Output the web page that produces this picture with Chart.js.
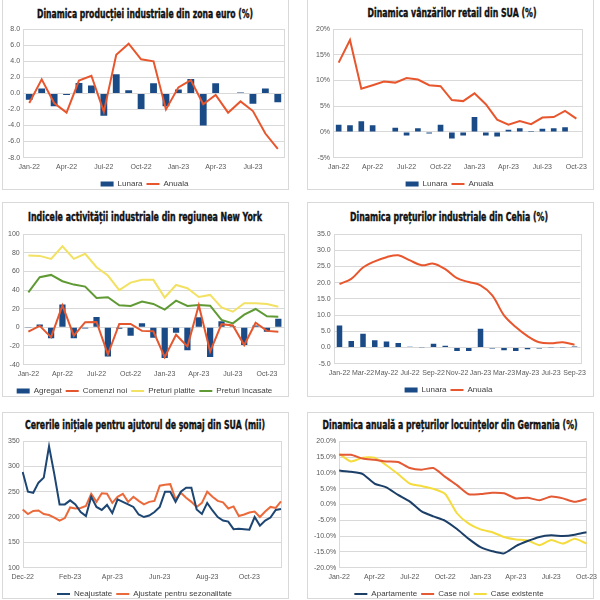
<!DOCTYPE html>
<html lang="ro">
<head>
<meta charset="utf-8">
<script src="https://cdn.jsdelivr.net/npm/chart.js@4.4.0/dist/chart.umd.min.js"></script>
<style>
body { margin: 0; width: 600px; height: 600px; position: relative; overflow: hidden; background: #fff; }
.panou { position: absolute; border: 1px solid #d9d9d9; box-sizing: border-box; }
.zona { position: absolute; }
.titlu { position: absolute; width: 300px; height: 16px; line-height: 16px; white-space: nowrap;
  font-family: "DejaVu Sans Condensed", "DejaVu Sans", sans-serif; font-weight: bold; font-size: 12.5px; color: #111;
  -webkit-text-stroke: 0.4px #111; }
.titlu span { position: absolute; left: 50%; top: 0; transform-origin: center; }
</style>
</head>
<body>
<div class="panou" style="left:2px;top:-1px;width:287px;height:191px"></div>
<div class="panou" style="left:307px;top:-1px;width:287px;height:191px"></div>
<div class="panou" style="left:2px;top:202px;width:287px;height:195px"></div>
<div class="panou" style="left:307px;top:202px;width:287px;height:195px"></div>
<div class="panou" style="left:2px;top:412px;width:287px;height:187px"></div>
<div class="panou" style="left:307px;top:412px;width:287px;height:187px"></div>

<div class="titlu" style="left:-5px;top:6px" data-latime="216"><span>Dinamica producției industriale din zona euro (%)</span></div>
<div class="titlu" style="left:302px;top:5px" data-latime="169"><span>Dinamica vânzărilor retail din SUA (%)</span></div>
<div class="titlu" style="left:-5px;top:209px" data-latime="234"><span>Indicele activității industriale din regiunea New York</span></div>
<div class="titlu" style="left:299px;top:209px" data-latime="198"><span>Dinamica prețurilor industriale din Cehia (%)</span></div>
<div class="titlu" style="left:-5px;top:417px" data-latime="240"><span>Cererile inițiale pentru ajutorul de șomaj din SUA (mii)</span></div>
<div class="titlu" style="left:300px;top:417px" data-latime="255"><span>Dinamica anuală a prețurilor locuințelor din Germania (%)</span></div>

<div class="zona" style="left:5px;top:22px;width:282px;height:176px"><canvas id="grafic1"></canvas></div>
<div class="zona" style="left:313px;top:22px;width:279px;height:176px"><canvas id="grafic2"></canvas></div>
<div class="zona" style="left:5px;top:227px;width:282px;height:178px"><canvas id="grafic3"></canvas></div>
<div class="zona" style="left:314px;top:227px;width:277px;height:177px"><canvas id="grafic4"></canvas></div>
<div class="zona" style="left:5px;top:434px;width:281px;height:174px"><canvas id="grafic5"></canvas></div>
<div class="zona" style="left:311px;top:434px;width:291px;height:174px"><canvas id="grafic6"></canvas></div>
<script>
const luni = ["Jan-22", "Feb-22", "Mar-22", "Apr-22", "May-22", "Jun-22", "Jul-22", "Aug-22", "Sep-22", "Oct-22", "Nov-22", "Dec-22",
  "Jan-23", "Feb-23", "Mar-23", "Apr-23", "May-23", "Jun-23", "Jul-23", "Aug-23", "Sep-23", "Oct-23", "Nov-23"];
const eticheteTrimestru = ["Jan-22", "Apr-22", "Jul-22", "Oct-22", "Jan-23", "Apr-23", "Jul-23", "Oct-23"];
const eticheteBilunar = ["Jan-22", "Mar-22", "May-22", "Jul-22", "Sep-22", "Nov-22", "Jan-23", "Mar-23", "May-23", "Jul-23", "Sep-23"];

// zona euro - productia industriala
const lunara1 = [-0.8, 0.6, -1.6, -0.2, 1.3, 1.0, -2.8, 2.4, 0.4, -1.95, 1.25, -1.6, 0.5, 1.8, -4.0, 1.25, 0.0, 0.1, -1.3, 0.6, -1.1];
const anuala1 = [-1.2, 1.75, -1.2, -2.4, 1.6, 2.2, -2.3, 4.8, 6.2, 4.25, 4.0, -2.0, 0.75, 1.65, -1.35, -0.2, -2.4, -1.0, -2.2, -5.0, -6.9];

// SUA - vanzari retail
const lunara2 = [1.4, 1.3, 2.1, 1.3, -0.1, 0.8, -0.7, 0.7, -0.3, 1.4, -1.3, -0.7, 2.9, -0.7, -0.9, 0.4, 0.7, 0.2, 0.6, 0.7, 0.9, -0.1];
const anuala2 = [13.5, 17.9, 8.4, 9.1, 9.8, 9.6, 10.5, 10.2, 9.1, 8.9, 6.2, 6.0, 7.5, 5.4, 2.4, 1.4, 2.1, 1.5, 2.8, 2.9, 4.1, 2.6];

// New York - Empire State
const agregat3 = [-0.7, 3.1, -11.8, 24.6, -11.6, -1.2, 11.1, -31.3, -1.5, -9.1, 4.5, -11.2, -32.9, -5.8, -24.6, 10.8, -31.8, 6.6, 1.1, -19.0, 1.9, -4.6, 9.1];
const comenzi3 = [-4.7, 1.6, -10.5, 23.5, -9.0, 5.6, 5.8, -29.0, 3.6, 3.6, -3.8, -4.2, -32.0, -7.9, -20.5, 23.8, -26.0, 3.4, 2.0, -19.0, 5.0, -3.8, -4.8];
const platite3 = [77, 76.7, 73.5, 87, 73.5, 79, 64.5, 55.6, 40, 48, 51, 51, 32, 45.5, 42, 32.6, 34.8, 21.5, 16.8, 25.8, 25.8, 25, 22.2];
const incasate3 = [37.6, 53.8, 56.3, 49.5, 45.9, 43.7, 31.5, 32.3, 23.7, 23, 27.6, 25.1, 19, 28.7, 23, 24, 23.3, 7.9, 4.3, 13.6, 19.7, 11.8, 11.5];

// Cehia - preturi industriale
const lunara4 = [6.8, 2.0, 4.2, 2.2, 1.8, 1.4, 0.2, -0.1, 1.1, 0.5, -1.1, -1.1, 5.8, -0.3, -0.9, -1.1, -0.6, -0.3, -0.1, -0.1, 0.3];
const anuala4 = [19.6, 21.2, 24.7, 26.6, 27.9, 28.5, 26.9, 25.4, 25.9, 24.2, 21.4, 20.2, 19.2, 16.1, 9.9, 6.3, 3.5, 1.6, 1.3, 1.6, 0.8];

// SUA - cereri initiale de somaj (mii), saptamanal
const saptamani5 = ["03-Dec-22", "10-Dec-22", "17-Dec-22", "24-Dec-22", "31-Dec-22", "07-Jan-23", "14-Jan-23", "21-Jan-23", "28-Jan-23",
  "04-Feb-23", "11-Feb-23", "18-Feb-23", "25-Feb-23", "04-Mar-23", "11-Mar-23", "18-Mar-23", "25-Mar-23", "01-Apr-23", "08-Apr-23",
  "15-Apr-23", "22-Apr-23", "29-Apr-23", "06-May-23", "13-May-23", "20-May-23", "27-May-23", "03-Jun-23", "10-Jun-23", "17-Jun-23",
  "24-Jun-23", "01-Jul-23", "08-Jul-23", "15-Jul-23", "22-Jul-23", "29-Jul-23", "05-Aug-23", "12-Aug-23", "19-Aug-23", "26-Aug-23",
  "02-Sep-23", "09-Sep-23", "16-Sep-23", "23-Sep-23", "30-Sep-23", "07-Oct-23", "14-Oct-23", "21-Oct-23", "28-Oct-23", "04-Nov-23", "11-Nov-23"];
const pozitiiTick5 = [0, 9, 17, 26, 35, 43];
const eticheteX5 = ["Dec-22", "Feb-23", "Apr-23", "Jun-23", "Aug-23", "Oct-23"];
const neajustate5 = [289, 250, 248, 268, 278, 340, 285, 225, 225, 233, 225, 210, 202, 240, 220, 214, 224, 208, 235, 230, 225, 220, 205, 200, 203,
  210, 220, 250, 250, 230, 250, 258, 258, 215, 206, 228, 213, 200, 193, 191, 176, 177, 176, 175, 200, 183, 193, 199, 214, 216];
const ajustate5 = [215, 206, 212, 213, 206, 204, 199, 193, 198, 219, 217, 218, 222, 246, 230, 247, 246, 228, 240, 246, 230, 240, 232, 225, 230,
  232, 262, 264, 265, 235, 248, 238, 230, 220, 228, 250, 240, 232, 229, 217, 221, 202, 205, 209, 211, 200, 211, 220, 218, 231];

// Germania - preturile locuintelor
const apartamente6 = [10.7, 10.3, 9.6, 6.6, 5.4, 3.0, 0.9, -2.2, -3.8, -5.2, -7.8, -10.9, -13.5, -14.8, -15.5, -13.2, -11.6, -10.3, -9.8, -10.0, -9.6, -8.8];
const caseNoi6 = [15.7, 15.7, 14.5, 14.1, 13.6, 13.4, 11.5, 11.0, 11.5, 8.7, 6.1, 3.2, 3.3, 3.7, 3.5, 1.9, 2.1, 1.3, 2.5, 1.9, 0.8, 1.7];
const caseExistente6 = [16.0, 13.6, 14.8, 14.8, 12.4, 9.6, 6.6, 5.8, 4.9, 3.3, -2.8, -6.1, -7.9, -8.8, -10.3, -11.1, -11.4, -12.9, -11.3, -12.4, -10.9, -12.4];

const ALBASTRU = "#1a4b86";
const PORTOCALIU = "#e8562d";
const GRILA = "#d9d9d9";

Chart.defaults.font.family = '"Liberation Sans Narrow", "Liberation Sans", Arial, sans-serif';
Chart.defaults.font.size = 7;
Chart.defaults.color = "#595959";
Chart.defaults.animation = false;

// titlurile sunt text HTML, stranse pe orizontala pana la latimea din imagine
document.querySelectorAll(".titlu").forEach((el) => {
  const span = el.querySelector("span");
  const k = Number(el.dataset.latime) / span.getBoundingClientRect().width;
  span.style.transform = "translateX(-50%) scaleX(" + k + ")";
});

const rama = {
  id: "rama",
  beforeDatasetsDraw(chart) {
    const { ctx, chartArea: a } = chart;
    ctx.save();
    ctx.strokeStyle = GRILA;
    ctx.lineWidth = 1;
    ctx.strokeRect(Math.round(a.left) + 0.5, Math.round(a.top) + 0.5, Math.round(a.right - a.left), Math.round(a.bottom - a.top));
    ctx.restore();
  }
};

function creeazaOptiuni(dreapta, min, max, pas, formatY, formatX) {
  return {
    responsive: true,
    maintainAspectRatio: false,
    layout: { padding: { left: 0, right: dreapta, top: 0, bottom: 0 } },
    plugins: {
      title: { display: false },
      legend: {
        position: "bottom",
        labels: {
          usePointStyle: true, pointStyleWidth: 13, boxHeight: 5,
          color: "#404040", font: { size: 8 }, padding: 4,
          sort: (a, b) => a.datasetIndex - b.datasetIndex
        }
      },
      tooltip: { enabled: false }
    },
    scales: {
      x: {
        grid: { display: false, drawTicks: false },
        border: { display: false },
        ticks: { autoSkip: false, maxRotation: 0, padding: 5, callback: formatX }
      },
      y: {
        min: min, max: max,
        grid: { color: GRILA, drawTicks: false },
        border: { display: false },
        ticks: { stepSize: pas, padding: 3, callback: formatY }
      }
    }
  };
}

function filtruEtichete(lista) {
  return function (valoare) {
    const eticheta = this.getLabelForValue(valoare);
    return lista.includes(eticheta) ? eticheta : "";
  };
}

function grafic(id, config) {
  config.plugins = [rama];
  new Chart(document.getElementById(id), config);
}

function seriaBare(eticheta, date, latime) {
  return { type: "bar", label: eticheta, data: date, backgroundColor: ALBASTRU, pointStyle: "rect",
    order: 1, barPercentage: latime, categoryPercentage: 1 };
}

function seriaLinie(eticheta, date, culoare, curbura) {
  return { type: "line", label: eticheta, data: date, borderColor: culoare, backgroundColor: culoare,
    borderWidth: 2, pointRadius: 0, pointStyle: "line", tension: curbura || 0, order: 0 };
}

grafic("grafic1", {
  type: "bar",
  data: {
    labels: luni.slice(0, lunara1.length),
    datasets: [seriaBare("Lunara", lunara1, 0.55), seriaLinie("Anuala", anuala1, PORTOCALIU)]
  },
  options: creeazaOptiuni(3, -8, 8, 2, (v) => v.toFixed(1), filtruEtichete(eticheteTrimestru))
});

grafic("grafic2", {
  type: "bar",
  data: {
    labels: luni.slice(0, lunara2.length),
    datasets: [seriaBare("Lunara", lunara2, 0.5), seriaLinie("Anuala", anuala2, PORTOCALIU)]
  },
  options: creeazaOptiuni(6, -5, 20, 5, (v) => v + "%", filtruEtichete(eticheteTrimestru))
});

grafic("grafic3", {
  type: "bar",
  data: {
    labels: luni.slice(0, agregat3.length),
    datasets: [
      seriaBare("Agregat", agregat3, 0.55),
      seriaLinie("Comenzi noi", comenzi3, "#e4572e"),
      seriaLinie("Preturi platite", platite3, "#f2e163"),
      seriaLinie("Preturi încasate", incasate3, "#5f9a34")
    ]
  },
  options: creeazaOptiuni(3, -40, 100, 20, (v) => v, filtruEtichete(eticheteTrimestru))
});

grafic("grafic4", {
  type: "bar",
  data: {
    labels: luni.slice(0, lunara4.length),
    datasets: [seriaBare("Lunara", lunara4, 0.47), seriaLinie("Anuala", anuala4, PORTOCALIU, 0.35)]
  },
  options: creeazaOptiuni(8, -5, 35, 5, (v) => v.toFixed(1), filtruEtichete(eticheteBilunar))
});

grafic("grafic5", {
  type: "line",
  data: {
    labels: saptamani5,
    datasets: [
      seriaLinie("Neajustate", neajustate5, "#1d4673"),
      seriaLinie("Ajustate pentru sezonalitate", ajustate5, "#eb6a3b")
    ]
  },
  options: creeazaOptiuni(2, 100, 350, 50, (v) => v, (v, i) => {
    const k = pozitiiTick5.indexOf(i);
    return k >= 0 ? eticheteX5[k] : "";
  })
});

grafic("grafic6", {
  type: "line",
  data: {
    labels: luni.slice(0, apartamente6.length),
    datasets: [
      seriaLinie("Apartamente", apartamente6, "#1c3f68", 0.2),
      seriaLinie("Case noi", caseNoi6, "#e35a35", 0.2),
      seriaLinie("Case existente", caseExistente6, "#f4dc3e", 0.2)
    ]
  },
  options: creeazaOptiuni(15, -20, 20, 5, (v) => v.toFixed(1) + "%", filtruEtichete(eticheteTrimestru))
});
</script>
</body>
</html>
